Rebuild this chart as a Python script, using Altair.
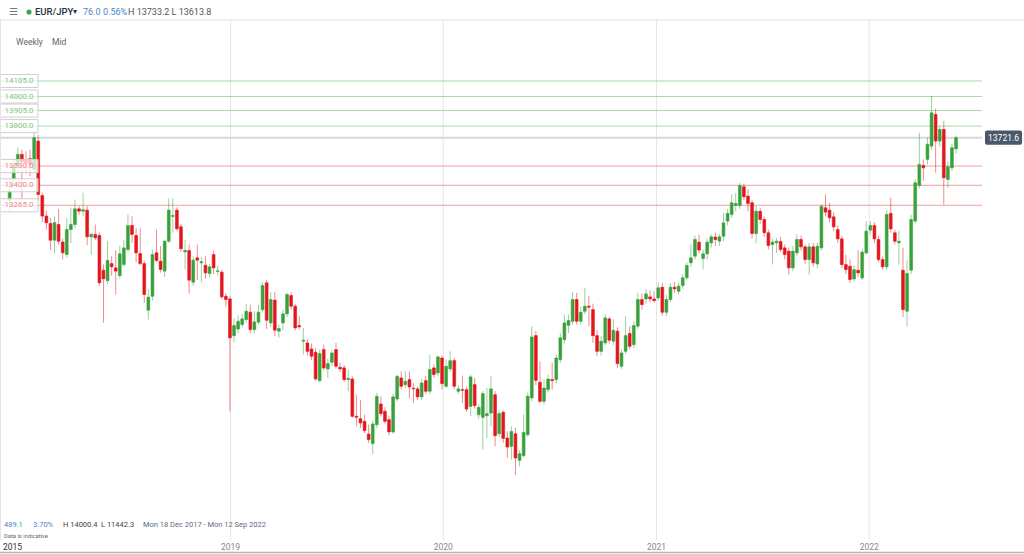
import altair as alt
import pandas as pd
import numpy as np

# ---------------- data (weekly EUR/JPY candles, x100) ----------------
FIRST_WEEK = "2017-12-18"
OPEN = [
    13300, 13444, 13530, 13609, 13570, 13580, 13507, 13699, 13331, 13192, 13142, 13029, 13135, 13016, 12932, 13101, 13135, 13241, 13225, 13232,
    13052, 13068, 13061, 12826, 12756, 12871, 12842, 12790, 12865, 12966, 13129, 13061, 12939, 12871, 12556, 12650, 12944, 12887, 12820, 13022,
    13190, 13232, 13120, 12950, 12959, 12745, 12910, 12876, 12860, 12804, 12932, 12818, 12813, 12650, 12632, 12384, 12429, 12459, 12493, 12542,
    12425, 12475, 12560, 12741, 12470, 12624, 12414, 12470, 12531, 12655, 12583, 12452, 12346, 12335, 12294, 12272, 12080, 12290, 12159, 12204,
    12290, 12170, 12166, 12087, 12091, 11839, 11823, 11805, 11719, 11654, 11782, 11922, 11873, 11816, 11733, 11956, 12098, 12053, 12087, 12028,
    12024, 11970, 12080, 12008, 12166, 12132, 12233, 12042, 12159, 12215, 12008, 12019, 12019, 11906, 12053, 11850, 11832, 11843, 11861, 11985,
    11721, 11866, 11692, 11636, 11721, 11541, 11573, 11715, 11963, 12384, 12069, 11940, 12019, 12087, 12087, 12222, 12357, 12454, 12481, 12628,
    12481, 12549, 12583, 12560, 12384, 12278, 12335, 12497, 12346, 12414, 12177, 12278, 12398, 12323, 12448, 12628, 12632, 12646, 12632, 12639,
    12711, 12542, 12628, 12711, 12684, 12723, 12775, 12876, 12921, 13016, 12905, 12937, 13011, 13050, 13023, 13056, 13158, 13203, 13264, 13264,
    13390, 13327, 13282, 13074, 13225, 13169, 13079, 13000, 13011, 13020, 12977, 12955, 12842, 12943, 13034, 12984, 12898, 12984, 12869, 12977,
    13248, 13232, 13187, 13101, 13038, 12864, 12853, 12767, 12826, 12774, 12943, 13097, 13128, 13034, 12898, 12849, 13210, 13079, 13011, 12826,
    12549, 12826, 13158, 13399, 13534, 13575, 13665, 13879, 13699, 13778, 13440, 13518, 13646,
]
HIGH = [
    13440, 13580, 13654, 13640, 13630, 13640, 13756, 13740, 13350, 13230, 13180, 13190, 13241, 13040, 13180, 13250, 13304, 13260, 13350, 13260,
    13080, 13135, 13080, 12865, 13022, 12920, 12960, 12990, 13030, 13203, 13190, 13110, 13110, 12890, 12700, 12966, 13100, 12990, 13030, 13311,
    13311, 13250, 13140, 13030, 13000, 12920, 13000, 12915, 12920, 12870, 12960, 12860, 12830, 12670, 12650, 12500, 12520, 12530, 12600, 12594,
    12549, 12594, 12745, 12760, 12680, 12678, 12460, 12560, 12673, 12678, 12600, 12515, 12436, 12360, 12330, 12300, 12290, 12324, 12230, 12290,
    12335, 12200, 12185, 12154, 12110, 11985, 11951, 11850, 11783, 11810, 11997, 11974, 11900, 11840, 11990, 12121, 12143, 12143, 12143, 12064,
    12040, 12090, 12110, 12256, 12190, 12249, 12250, 12222, 12278, 12233, 12050, 12114, 12040, 12120, 12098, 11920, 12010, 12030, 12109, 12010,
    11880, 11879, 11737, 11771, 11760, 11610, 11850, 11997, 12448, 12414, 12211, 12087, 12120, 12200, 12256, 12400, 12527, 12527, 12678, 12673,
    12580, 12707, 12650, 12600, 12420, 12380, 12530, 12510, 12493, 12440, 12290, 12515, 12448, 12480, 12673, 12669, 12700, 12690, 12684, 12745,
    12740, 12660, 12740, 12745, 12740, 12800, 12880, 13000, 13060, 13068, 12966, 13040, 13068, 13080, 13070, 13214, 13240, 13338, 13349, 13417,
    13412, 13372, 13300, 13260, 13248, 13190, 13100, 13040, 13045, 13050, 13000, 12980, 12990, 13067, 13060, 13000, 13010, 13010, 13010, 13270,
    13338, 13282, 13220, 13130, 13060, 12930, 12900, 12860, 12961, 12970, 13158, 13160, 13150, 13060, 12920, 13230, 13315, 13100, 13090, 12977,
    12898, 13200, 13440, 13755, 13575, 13724, 14004, 13918, 13800, 13834, 13560, 13680, 13733,
]
LOW = [
    13230, 13400, 13485, 13304, 13480, 13460, 13490, 13300, 13150, 13100, 12962, 12944, 13000, 12899, 12910, 13010, 13110, 13200, 13190, 12995,
    12930, 13030, 12720, 12470, 12730, 12790, 12662, 12770, 12850, 12950, 13010, 12880, 12860, 12605, 12493, 12620, 12880, 12810, 12780, 13010,
    13080, 13090, 12950, 12830, 12669, 12720, 12760, 12745, 12770, 12780, 12800, 12790, 12630, 12580, 11873, 12340, 12400, 12440, 12470, 12400,
    12400, 12460, 12540, 12430, 12440, 12380, 12369, 12420, 12510, 12560, 12420, 12425, 12256, 12250, 12220, 12080, 12070, 12150, 12098, 12180,
    12160, 12140, 12070, 12008, 11830, 11771, 11760, 11726, 11658, 11584, 11760, 11840, 11790, 11710, 11720, 11940, 12020, 12030, 11963, 11929,
    11950, 11950, 11990, 11990, 12100, 12110, 12019, 12030, 12140, 12020, 11990, 11929, 11870, 11839, 11890, 11820, 11613, 11692, 11771, 11636,
    11700, 11660, 11557, 11545, 11442, 11500, 11560, 11700, 11940, 12050, 11929, 11918, 12000, 12019, 12060, 12200, 12330, 12402, 12460, 12460,
    12460, 12530, 12448, 12335, 12245, 12250, 12320, 12330, 12320, 12166, 12160, 12260, 12290, 12300, 12430, 12560, 12600, 12610, 12605, 12620,
    12520, 12515, 12610, 12670, 12660, 12700, 12760, 12850, 12900, 12940, 12831, 12900, 12980, 12990, 12990, 13022, 13130, 13180, 13225, 13240,
    13300, 13225, 13040, 13007, 13140, 13050, 12966, 12865, 12943, 12950, 12900, 12797, 12820, 12920, 12960, 12870, 12797, 12850, 12840, 12960,
    13190, 13150, 13090, 13010, 12840, 12800, 12740, 12750, 12780, 12760, 12930, 13070, 13010, 12880, 12830, 12830, 13080, 13000, 12865, 12510,
    12443, 12800, 13140, 13380, 13430, 13541, 13640, 13485, 13660, 13270, 13383, 13500, 13614,
]
CLOSE = [
    13360, 13530, 13609, 13557, 13550, 13540, 13722, 13338, 13192, 13147, 13029, 13147, 13022, 12944, 13101, 13135, 13241, 13225, 13235, 13052,
    13068, 13045, 12741, 12768, 12892, 12849, 12820, 12937, 12977, 13129, 13068, 12944, 12871, 12662, 12644, 12932, 12892, 12831, 13022, 13232,
    13195, 13106, 12971, 12960, 12759, 12894, 12894, 12884, 12808, 12849, 12842, 12822, 12646, 12628, 12369, 12452, 12481, 12497, 12549, 12425,
    12477, 12542, 12723, 12488, 12628, 12421, 12432, 12531, 12662, 12583, 12436, 12443, 12353, 12278, 12245, 12091, 12263, 12166, 12195, 12267,
    12177, 12159, 12087, 12096, 11839, 11832, 11794, 11742, 11681, 11787, 11974, 11857, 11805, 11733, 11970, 12109, 12042, 12075, 12037, 12024,
    11970, 12064, 12008, 12155, 12121, 12240, 12060, 12177, 12215, 12042, 12024, 12015, 11888, 12105, 11911, 11899, 11992, 11857, 12024, 11708,
    11857, 11690, 11631, 11737, 11557, 11586, 11730, 11974, 12375, 12082, 11940, 12030, 12091, 12080, 12233, 12369, 12470, 12486, 12628, 12481,
    12542, 12583, 12576, 12384, 12278, 12346, 12504, 12353, 12420, 12195, 12267, 12384, 12312, 12452, 12628, 12594, 12666, 12632, 12621, 12707,
    12542, 12628, 12711, 12700, 12718, 12775, 12858, 12910, 13034, 12962, 12937, 13016, 13052, 13034, 13052, 13146, 13210, 13282, 13277, 13399,
    13322, 13277, 13074, 13225, 13169, 13079, 12993, 13016, 13022, 12966, 12932, 12842, 12955, 13034, 12984, 12898, 12984, 12876, 12988, 13259,
    13219, 13180, 13119, 13038, 12864, 12830, 12763, 12830, 12808, 12948, 13090, 13128, 13038, 12898, 12849, 13203, 13106, 13022, 13022, 12560,
    12804, 13169, 13417, 13541, 13518, 13677, 13890, 13699, 13778, 13451, 13525, 13654, 13721.6,
]
GREEN_LEVELS = [14105, 14000, 13905, 13800]
RED_LEVELS = [13530, 13400, 13265]
Y_TICKS = [11500, 12000, 12500, 13000, 13500, 14000]
YEAR_STARTS = ["2019-01-01", "2020-01-01", "2021-01-01", "2022-01-01"]
YEAR_LABELS = ["2019", "2020", "2021", "2022"]
LAST_PRICE = 13721.6

FONT = "Roboto"
GREEN = "#38a13b"
RED = "#e3161d"

# ---------------- tables ----------------
N = len(CLOSE)
dates = pd.date_range(FIRST_WEEK, periods=N, freq="7D").strftime("%Y-%m-%d")
df = pd.DataFrame({"date": dates, "o": OPEN, "h": HIGH, "l": LOW, "c": CLOSE})
df["top"] = df[["o", "c"]].max(axis=1)
df["bot"] = df[["o", "c"]].min(axis=1)
df["hi"] = df[["h", "top"]].max(axis=1)
df["lo"] = df[["l", "bot"]].min(axis=1)
df["dir"] = np.where(df["c"] >= df["o"], "up", "down")

green_lv = pd.DataFrame({"v": GREEN_LEVELS, "label": [f"{v:.1f}" for v in GREEN_LEVELS]})
red_lv = pd.DataFrame({"v": RED_LEVELS, "label": [f"{v:.1f}" for v in RED_LEVELS]})
all_lv = pd.concat([green_lv, red_lv], ignore_index=True)

years = pd.DataFrame({"date": YEAR_STARTS, "label": YEAR_LABELS})
price = pd.DataFrame({"v": [LAST_PRICE], "label": [f"{LAST_PRICE:.1f}"]})
one = pd.DataFrame({"k": [0]})

# ---------------- scales ----------------
W, H = 982, 520
xs = alt.Scale(type="utc", domain=["2017-12-10", "2022-07-05"])
ys = alt.Scale(domain=[11003, 14517], nice=False, zero=False)
dir_col = alt.Scale(domain=["up", "down"], range=[GREEN, RED])
X = alt.X("date:T", scale=xs, axis=None)

yaxis = alt.Axis(orient="right", values=Y_TICKS, format=".1f", labelColor="#555555",
                 labelFontSize=8.5, labelFont=FONT, tickColor="#dddddd", tickSize=6,
                 labelPadding=2, domain=False, grid=True, gridColor="#efefef", title=None)


def yq(field):
    return alt.Y(field, scale=ys, axis=None)


# ---------------- layers ----------------
year_rules = alt.Chart(years).mark_rule(color="#e6e6e6", strokeWidth=1).encode(
    x=X, y=alt.value(0), y2=alt.value(H))
year_text = alt.Chart(years).mark_text(font=FONT, fontSize=8.5, color="#888888",
                                       baseline="middle", align="center").encode(
    x=X, y=alt.value(527), text="label:N")

green_lines = alt.Chart(green_lv).mark_rule(strokeWidth=1, color="#a9d8a9").encode(y=yq("v:Q"))
red_lines = alt.Chart(red_lv).mark_rule(strokeWidth=1, color="#f39d9d").encode(y=yq("v:Q"))

price_line = alt.Chart(price).mark_rule(strokeWidth=2, color="#d4d8df").encode(y=yq("v:Q"))

wicks = alt.Chart(df).mark_rule(strokeWidth=1, opacity=0.5).encode(
    x=X, y=alt.Y("lo:Q", scale=ys, axis=yaxis), y2="hi:Q",
    color=alt.Color("dir:N", scale=dir_col, legend=None))

bodies = alt.Chart(df).mark_bar(size=2.8, strokeWidth=0.6, opacity=1).encode(
    x=X, y=yq("bot:Q"), y2="top:Q",
    color=alt.Color("dir:N", scale=dir_col, legend=None),
    stroke=alt.Stroke("dir:N", scale=dir_col, legend=None))

label_boxes = alt.Chart(all_lv).transform_calculate(
    b0="datum.v - 44", b1="datum.v + 44"
).mark_rect(fill="white", fillOpacity=0.72, stroke="#cfcfcf", strokeWidth=1, opacity=1).encode(
    x=alt.value(0.5), x2=alt.value(38), y=yq("b0:Q"), y2="b1:Q")

green_text = alt.Chart(green_lv).mark_text(font=FONT, fontSize=8, baseline="middle", align="center",
                                           color="#86c686").encode(
    x=alt.value(19), y=yq("v:Q"), text="label:N")
red_text = alt.Chart(red_lv).mark_text(font=FONT, fontSize=8, baseline="middle", align="center",
                                       color="#ee8a8a").encode(
    x=alt.value(19), y=yq("v:Q"), text="label:N")

tag_box = alt.Chart(price).transform_calculate(
    b0="datum.v - 48", b1="datum.v + 48"
).mark_rect(fill="#4b586b", cornerRadius=2, opacity=1).encode(
    x=alt.value(985), x2=alt.value(1022), y=yq("b0:Q"), y2="b1:Q")
tag_text = alt.Chart(price).mark_text(font=FONT, fontSize=8.5, color="white", baseline="middle", align="center").encode(
    x=alt.value(1003.5), y=yq("v:Q"), text="label:N")


def txt(s, x, y, size=9, color="#555555", weight="normal", font=FONT, align="left"):
    return alt.Chart(one).mark_text(text=s, font=font, fontSize=size, color=color, fontWeight=weight,
                                    align=align, baseline="middle").encode(x=alt.value(x), y=alt.value(y))


header_line = alt.Chart(one).mark_rule(color="#e2e2e2", strokeWidth=1).encode(
    x=alt.value(0), x2=alt.value(1024), y=alt.value(0))
left_line = alt.Chart(one).mark_rule(color="#e4e4e4", strokeWidth=1).encode(
    x=alt.value(0.5), y=alt.value(0), y2=alt.value(H))
bottom_line = alt.Chart(one).mark_rule(color="#b5b5b5", strokeWidth=1.5).encode(
    x=alt.value(0), x2=alt.value(1024), y=alt.value(532.5))
dot = alt.Chart(one).mark_circle(size=26, color="#2fa84f", opacity=1).encode(
    x=alt.value(29), y=alt.value(-8))

annotations = [
    txt("☰", 9, -8, size=10, color="#7a7a7a", font="DejaVu Sans"),
    txt("EUR/JPY", 35, -8, size=9.5, color="#263246", weight=500),
    txt("▾", 73, -8, size=8, color="#263246", font="DejaVu Sans"),
    txt("76.0", 83, -8, size=9, color="#4a87c7"),
    txt("0.56%", 103, -8, size=9, color="#4a87c7"),
    txt("H 13733.2  L 13613.8", 128, -8, size=9, color="#555555"),
    txt("Weekly", 16, 22, size=8.5, color="#666666"),
    txt("Mid", 52, 22, size=8.5, color="#666666"),
    txt("489.1", 4, 505, size=7.5, color="#4a87c7"),
    txt("3.70%", 33, 505, size=7.5, color="#4a87c7"),
    txt("H 14000.4", 63, 505, size=7.5, color="#444444"),
    txt("L 11442.3", 101, 505, size=7.5, color="#444444"),
    txt("Mon 18 Dec 2017 - Mon 12 Sep 2022", 143, 505, size=7.5, color="#5d6b80"),
    txt("Data is indicative", 4, 516, size=5.8, color="#666666"),
    txt("2015", 3, 527, size=8.5, color="#333333"),
]

chart = alt.layer(
    year_rules, green_lines, red_lines, price_line, wicks, bodies, label_boxes, green_text, red_text,
    tag_box, tag_text, header_line, left_line, bottom_line, year_text, dot, *annotations
).properties(
    width=W, height=H,
    autosize=alt.AutoSizeParams(type="none"),
    padding={"left": 0, "top": 20, "right": 42, "bottom": 14},
    background="white",
).configure_view(stroke=None)

chart.save("out.html", embed_options={"renderer": "svg", "actions": False})
